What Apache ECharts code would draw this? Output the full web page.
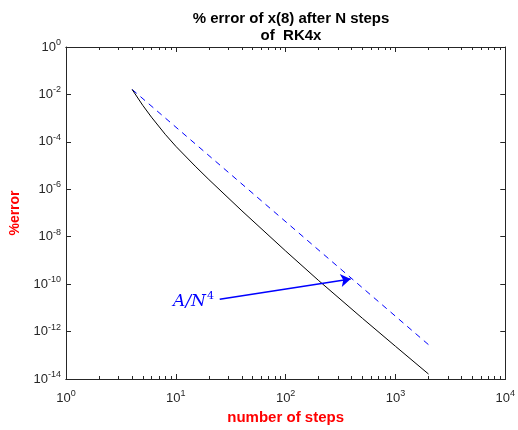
<!DOCTYPE html>
<html>
<head>
<meta charset="utf-8">
<script src="https://cdn.jsdelivr.net/npm/echarts@6/dist/echarts.min.js"></script>
<style>
  html, body { margin: 0; padding: 0; background: #fff; }
  #chart { width: 518px; height: 430px; }
</style>
</head>
<body>
<div id="chart"></div>
<script>
// % error of RK4x vs number of steps
const steps = [4, 5, 6, 8, 10, 15, 20, 40, 100, 200, 500, 1000, 2000];
const pctError = [1.62e-2, 3.47e-3, 1.10e-3, 2.09e-4, 6.5e-5, 9.5e-6, 2.57e-6, 1.23e-7, 2.5e-9, 1.41e-10, 3.63e-12, 2.4e-13, 1.62e-14];

// reference slope A/N^4
const refSteps = [4, 2000];
const refError = [1.62e-2, 2.8e-13];

const xMajorTicks = [1, 10, 100, 1000, 10000];
const xMinorTicks = [2, 3, 4, 5, 6, 7, 8, 9, 20, 30, 40, 50, 60, 70, 80, 90,
  200, 300, 400, 500, 600, 700, 800, 900, 2000, 3000, 4000, 5000, 6000, 7000, 8000, 9000];
const yMajorTicks = [1e-14, 1e-12, 1e-10, 1e-8, 1e-6, 1e-4, 1e-2, 1];

// annotation: arrow from label to the dashed line
const arrowFrom = [25.1, 2.29e-11];
const arrowTo = [391, 1.66e-10];
const labelAt = [14.5, 1.9e-11];

const axisColor = '#262626';
const font = 'Liberation Sans, Arial, Helvetica, sans-serif';

function powLabel(v) {
  const e = Math.round(Math.log10(v));
  return '{b|10}{e|' + e + '}';
}
const powRich = {
  b: {fontSize: 13, color: axisColor, fontFamily: font},
  e: {fontSize: 9, color: axisColor, fontFamily: font, padding: [0, 0, 9, 0]}
};

function logAxis(extra) {
  return Object.assign({
    type: 'log', logBase: 10, gridIndex: 0,
    axisLine: {show: true, onZero: false, lineStyle: {color: axisColor, width: 1}},
    splitLine: {show: false},
    minorTick: {show: false},
    axisLabel: {show: false}
  }, extra);
}

const option = {
  animation: false,
  backgroundColor: '#fff',
  title: {
    text: '% error of x(8) after N steps\nof  RK4x',
    left: 286, top: 5, textAlign: 'center',
    textStyle: {fontSize: 15, fontWeight: 'bold', color: '#000', fontFamily: font, lineHeight: 17}
  },
  grid: {left: 64, right: 10, top: 47, bottom: 48},
  xAxis: [
    logAxis({
      min: 1, max: 10000, position: 'bottom',
      name: 'number of steps', nameLocation: 'middle', nameGap: 31,
      nameTextStyle: {color: '#ff0000', fontSize: 15, fontWeight: 'bold', fontFamily: font},
      axisTick: {show: true, inside: true, length: 5, customValues: xMajorTicks, lineStyle: {color: axisColor}},
      axisLabel: {show: true, customValues: xMajorTicks, formatter: powLabel, rich: powRich, margin: 10}
    }),
    logAxis({
      min: 1, max: 10000, position: 'bottom',
      axisTick: {show: true, inside: true, length: 3, customValues: xMinorTicks, lineStyle: {color: axisColor}}
    }),
    logAxis({
      min: 1, max: 10000, position: 'top',
      axisTick: {show: true, inside: true, length: 5, customValues: xMajorTicks, lineStyle: {color: axisColor}}
    }),
    logAxis({
      min: 1, max: 10000, position: 'top',
      axisTick: {show: true, inside: true, length: 3, customValues: xMinorTicks, lineStyle: {color: axisColor}}
    })
  ],
  yAxis: [
    logAxis({
      min: 1e-14, max: 1, position: 'left',
      name: '%error', nameLocation: 'middle', nameGap: 44,
      nameTextStyle: {color: '#ff0000', fontSize: 14, fontWeight: 'bold', fontFamily: font},
      axisTick: {show: true, inside: true, length: 5, customValues: yMajorTicks, lineStyle: {color: axisColor}},
      axisLabel: {show: true, customValues: yMajorTicks, formatter: powLabel, rich: powRich, margin: 5}
    }),
    logAxis({
      min: 1e-14, max: 1, position: 'right',
      axisTick: {show: true, inside: true, length: 5, customValues: yMajorTicks, lineStyle: {color: axisColor}}
    })
  ],
  series: [
    {
      name: 'RK4x', type: 'line', xAxisIndex: 0, yAxisIndex: 0,
      data: steps.map((n, i) => [n, pctError[i]]),
      showSymbol: false, symbol: 'none',
      lineStyle: {color: '#000', width: 1},
      z: 3
    },
    {
      name: 'A/N^4', type: 'line', xAxisIndex: 0, yAxisIndex: 0,
      data: refSteps.map((n, i) => [n, refError[i]]),
      showSymbol: false, symbol: 'none',
      lineStyle: {color: '#0000ff', width: 1, type: [6, 5]},
      z: 2,
      markLine: {
        silent: true, animation: false,
        symbol: ['none', 'arrow'], symbolSize: 10,
        lineStyle: {color: '#0000ff', width: 1.5, type: 'solid'},
        label: {show: false},
        data: [[{coord: arrowFrom}, {coord: arrowTo}]]
      },
      markPoint: {
        silent: true, animation: false,
        symbol: 'circle', symbolSize: 1,
        itemStyle: {color: 'rgba(0,0,0,0)'},
        label: {
          show: true, position: 'inside',
          formatter: '{a|A/N}{s|4}',
          rich: {
            a: {fontSize: 17, fontStyle: 'italic', color: '#0000ff', fontFamily: 'DejaVu Serif, Liberation Serif, serif'},
            s: {fontSize: 11, color: '#0000ff', fontFamily: 'DejaVu Serif, Liberation Serif, serif', padding: [0, 0, 10, 1]}
          }
        },
        data: [{coord: labelAt}]
      }
    }
  ]
};

const myChart = echarts.init(document.getElementById('chart'), null, {renderer: 'canvas'});
myChart.setOption(option);
</script>
</body>
</html>
